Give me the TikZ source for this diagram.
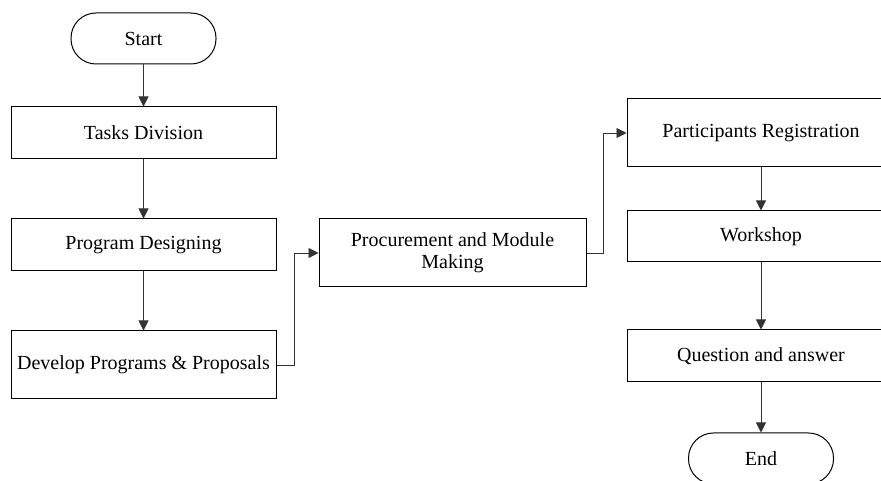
\documentclass[tikz,border=0pt]{standalone}
\usepackage{fontspec}
\setmainfont{Liberation Serif}
\usetikzlibrary{arrows.meta}

\tikzset{
  proc/.style={draw=black, line width=1pt, rectangle, minimum height=52pt, align=center, inner sep=2pt},
  term/.style={draw=black, line width=1pt, rectangle, rounded corners=25pt, minimum width=145pt, minimum height=51pt},
  arr/.style={draw=black!80, line width=0.9pt, -{Triangle[length=10pt,width=10pt]}}
}

\begin{document}
\begin{tikzpicture}[x=1pt, y=1pt, font=\fontsize{20}{22}\selectfont]
\useasboundingbox (0,0) rectangle (881,481);
\clip (0,0) rectangle (881,481);

% Left column
\node[term] (start) at (143.5, 442.5) {Start};
\node[proc, minimum width=265pt] (tasks) at (143.5, 348) {Tasks Division};
\node[proc, minimum width=265pt] (design) at (143.5, 236) {Program Designing};
\node[proc, minimum width=265pt, minimum height=68pt] (develop) at (143.5, 116) {Develop Programs \& Proposals};

% Middle
\node[proc, minimum width=267pt, minimum height=68pt] (procure) at (452.5, 228) {Procurement and Module\\Making};

% Right column
\node[proc, minimum width=268pt, minimum height=68pt] (register) at (761, 348) {Participants Registration};
\node[proc, minimum width=268pt, minimum height=51pt] (workshop) at (761, 244.5) {Workshop};
\node[proc, minimum width=268pt] (qa) at (761, 125) {Question and answer};
\node[term] (end) at (761, 22.5) {End};

% Connectors
\draw[arr] (start) -- (tasks);
\draw[arr] (tasks) -- (design);
\draw[arr] (design) -- (develop);
\draw[arr] (develop.east) -- ++(18,0) |- (procure.west);
\draw[arr] (procure.east) -- ++(17,0) |- (register.west);
\draw[arr] (register) -- (workshop);
\draw[arr] (workshop) -- (qa);
\draw[arr] (qa) -- (end);

\end{tikzpicture}
\end{document}
